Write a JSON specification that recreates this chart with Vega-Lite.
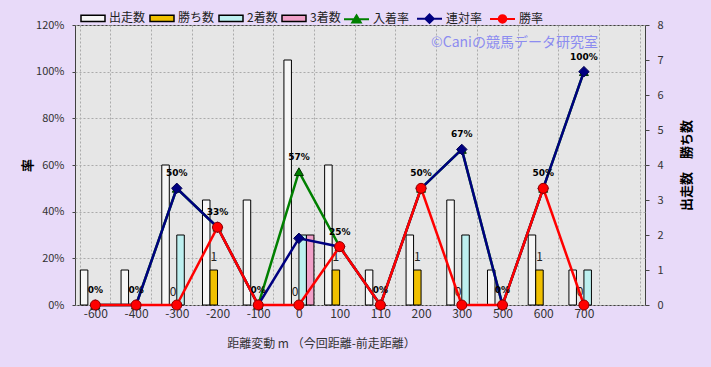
{
  "$schema": "https://vega.github.io/schema/vega-lite/v6.json",
  "width": 570,
  "height": 280,
  "autosize": {"type": "none"},
  "padding": {"left": 75, "top": 25, "right": 66, "bottom": 62},
  "background": "#e8daf9",
  "config": {
    "font": "Noto Sans CJK JP",
    "view": {"fill": "#e6e6e6", "stroke": "#404040", "strokeWidth": 1},
    "axis": {
      "labelFont": "Noto Sans CJK JP",
      "titleFont": "Noto Sans CJK JP",
      "labelColor": "#333333",
      "labelFontSize": 11,
      "gridColor": "#ababab",
      "gridDash": [2, 2],
      "gridWidth": 1,
      "domain": false,
      "tickColor": "#444444"
    },
    "legend": {"labelFont": "Noto Sans CJK JP", "labelColor": "#222222", "labelFontSize": 12}
  },
  "datasets": {
    "bars": [
      {"d": "-600", "s": "出走数", "v": 1},
      {"d": "-400", "s": "出走数", "v": 1},
      {"d": "-300", "s": "出走数", "v": 4},
      {"d": "-300", "s": "2着数", "v": 2},
      {"d": "-200", "s": "出走数", "v": 3},
      {"d": "-200", "s": "勝ち数", "v": 1},
      {"d": "-100", "s": "出走数", "v": 3},
      {"d": "0", "s": "出走数", "v": 7},
      {"d": "0", "s": "2着数", "v": 2},
      {"d": "0", "s": "3着数", "v": 2},
      {"d": "100", "s": "出走数", "v": 4},
      {"d": "100", "s": "勝ち数", "v": 1},
      {"d": "110", "s": "出走数", "v": 1},
      {"d": "200", "s": "出走数", "v": 2},
      {"d": "200", "s": "勝ち数", "v": 1},
      {"d": "300", "s": "出走数", "v": 3},
      {"d": "300", "s": "2着数", "v": 2},
      {"d": "500", "s": "出走数", "v": 1},
      {"d": "600", "s": "出走数", "v": 2},
      {"d": "600", "s": "勝ち数", "v": 1},
      {"d": "700", "s": "出走数", "v": 1},
      {"d": "700", "s": "2着数", "v": 1}
    ],
    "wins": [
      {"d": "-300", "s": "勝ち数", "v": 0, "t": "0"},
      {"d": "-200", "s": "勝ち数", "v": 1, "t": "1"},
      {"d": "0", "s": "勝ち数", "v": 0, "t": "0"},
      {"d": "100", "s": "勝ち数", "v": 1, "t": "1"},
      {"d": "200", "s": "勝ち数", "v": 1, "t": "1"},
      {"d": "300", "s": "勝ち数", "v": 0, "t": "0"},
      {"d": "600", "s": "勝ち数", "v": 1, "t": "1"},
      {"d": "700", "s": "勝ち数", "v": 0, "t": "0"}
    ],
    "rates": [
      {"d": "-600", "s": "入着率", "v": 0},
      {"d": "-400", "s": "入着率", "v": 0},
      {"d": "-300", "s": "入着率", "v": 0.5},
      {"d": "-200", "s": "入着率", "v": 0.3333},
      {"d": "-100", "s": "入着率", "v": 0},
      {"d": "0", "s": "入着率", "v": 0.5714},
      {"d": "100", "s": "入着率", "v": 0.25},
      {"d": "110", "s": "入着率", "v": 0},
      {"d": "200", "s": "入着率", "v": 0.5},
      {"d": "300", "s": "入着率", "v": 0.6667},
      {"d": "500", "s": "入着率", "v": 0},
      {"d": "600", "s": "入着率", "v": 0.5},
      {"d": "700", "s": "入着率", "v": 1},
      {"d": "-600", "s": "連対率", "v": 0},
      {"d": "-400", "s": "連対率", "v": 0},
      {"d": "-300", "s": "連対率", "v": 0.5},
      {"d": "-200", "s": "連対率", "v": 0.3333},
      {"d": "-100", "s": "連対率", "v": 0},
      {"d": "0", "s": "連対率", "v": 0.2857},
      {"d": "100", "s": "連対率", "v": 0.25},
      {"d": "110", "s": "連対率", "v": 0},
      {"d": "200", "s": "連対率", "v": 0.5},
      {"d": "300", "s": "連対率", "v": 0.6667},
      {"d": "500", "s": "連対率", "v": 0},
      {"d": "600", "s": "連対率", "v": 0.5},
      {"d": "700", "s": "連対率", "v": 1},
      {"d": "-600", "s": "勝率", "v": 0},
      {"d": "-400", "s": "勝率", "v": 0},
      {"d": "-300", "s": "勝率", "v": 0},
      {"d": "-200", "s": "勝率", "v": 0.3333},
      {"d": "-100", "s": "勝率", "v": 0},
      {"d": "0", "s": "勝率", "v": 0},
      {"d": "100", "s": "勝率", "v": 0.25},
      {"d": "110", "s": "勝率", "v": 0},
      {"d": "200", "s": "勝率", "v": 0.5},
      {"d": "300", "s": "勝率", "v": 0},
      {"d": "500", "s": "勝率", "v": 0},
      {"d": "600", "s": "勝率", "v": 0.5},
      {"d": "700", "s": "勝率", "v": 0}
    ],
    "pct": [
      {"d": "-600", "v": 0, "t": "0%"},
      {"d": "-400", "v": 0, "t": "0%"},
      {"d": "-300", "v": 0.5, "t": "50%"},
      {"d": "-200", "v": 0.3333, "t": "33%"},
      {"d": "-100", "v": 0, "t": "0%"},
      {"d": "0", "v": 0.5714, "t": "57%"},
      {"d": "100", "v": 0.25, "t": "25%"},
      {"d": "110", "v": 0, "t": "0%"},
      {"d": "200", "v": 0.5, "t": "50%"},
      {"d": "300", "v": 0.6667, "t": "67%"},
      {"d": "500", "v": 0, "t": "0%"},
      {"d": "600", "v": 0.5, "t": "50%"},
      {"d": "700", "v": 1, "t": "100%"}
    ],
    "mark": [
      {"d": "500", "v": 1.125, "t": "©Caniの競馬データ研究室"}
    ]
  },
  "encoding": {
    "x": {
      "field": "d",
      "type": "nominal",
      "sort": null,
      "scale": {
        "domain": ["-600", "-400", "-300", "-200", "-100", "0", "100", "110", "200", "300", "500", "600", "700", " "],
        "paddingInner": 0.263,
        "paddingOuter": 0.1315
      },
      "axis": {
        "title": "距離変動 m （今回距離-前走距離）",
        "labelAngle": 0,
        "labelFontSize": 12,
        "labelPadding": 3,
        "ticks": false,
        "grid": true,
        "tickBand": "extent",
        "titleX": 246,
        "titleY": 38,
        "titleBaseline": "middle",
        "titleAlign": "center",
        "titleFontSize": 12,
        "titleFontWeight": "normal",
        "titleColor": "#333333"
      }
    }
  },
  "layer": [
    {
      "encoding": {
        "y": {
          "field": "v",
          "type": "quantitative",
          "scale": {"domain": [0, 8], "nice": false},
          "axis": {
            "orient": "right",
            "values": [0, 1, 2, 3, 4, 5, 6, 7, 8],
            "grid": false,
            "tickSize": 4,
            "labelPadding": 8,
            "title": "出走数　勝ち数",
            "titleAngle": 270,
            "titleX": 41,
            "titleY": 140,
            "titleAlign": "center",
            "titleBaseline": "middle",
            "titleFontSize": 13,
            "titleFontWeight": "bold",
            "titleColor": "#000000"
          }
        }
      },
      "layer": [
        {
          "data": {"name": "bars"},
          "mark": {"type": "bar", "stroke": "#000000", "strokeWidth": 1},
          "encoding": {
            "xOffset": {
              "field": "s",
              "type": "nominal",
              "scale": {"domain": ["出走数", "勝ち数", "2着数", "3着数"], "paddingInner": 0, "paddingOuter": 0}
            },
            "fill": {
              "field": "s",
              "type": "nominal",
              "scale": {"domain": ["出走数", "勝ち数", "2着数", "3着数"], "range": ["#f6f6f6", "#f0c000", "#bdf0f0", "#f0a0c8"]},
              "legend": {
                "orient": "none",
                "legendX": 5,
                "legendY": -20,
                "direction": "horizontal",
                "title": null,
                "padding": 0,
                "symbolType": "M-1,-0.27H1V0.27H-1Z",
                "symbolSize": 576,
                "symbolStrokeColor": "#000000",
                "symbolStrokeWidth": 1.5,
                "symbolOpacity": 1,
                "labelOffset": 3,
                "columnPadding": 1
              }
            }
          }
        },
        {
          "data": {"name": "wins"},
          "mark": {"type": "text", "dy": -13, "fontSize": 12, "fill": "#222222", "baseline": "middle", "align": "center"},
          "encoding": {
            "xOffset": {"field": "s", "type": "nominal"},
            "text": {"field": "t"}
          }
        }
      ]
    },
    {
      "encoding": {
        "y": {
          "field": "v",
          "type": "quantitative",
          "scale": {"domain": [0, 1.2], "nice": false},
          "axis": {
            "orient": "left",
            "values": [0, 0.2, 0.4, 0.6, 0.8, 1, 1.2],
            "format": ".0%",
            "grid": true,
            "tickSize": 3,
            "labelPadding": 8,
            "title": "率",
            "titleAngle": 270,
            "titleX": -48,
            "titleY": 140,
            "titleAlign": "center",
            "titleBaseline": "middle",
            "titleFontSize": 13,
            "titleFontWeight": "bold",
            "titleColor": "#000000"
          }
        },
        "color": {
          "field": "s",
          "type": "nominal",
          "scale": {"domain": ["入着率", "連対率", "勝率"], "range": ["#008000", "#000080", "#ff0000"]},
          "legend": {
            "orient": "none",
            "legendX": 268,
            "legendY": -20,
            "direction": "horizontal",
            "title": null,
            "padding": 0,
            "symbolSize": 625,
            "labelOffset": 3,
            "columnPadding": 3,
            "encode": {
              "symbols": {
                "update": {
                  "shape": {"signal": "datum.value === '入着率' ? 'M-1,0H1M0,-0.3L0.34,0.26H-0.34Z' : datum.value === '連対率' ? 'M-1,0H1M0,-0.34L0.34,0L0,0.34L-0.34,0Z' : 'M-1,0H1M0.3,0A0.3,0.3 0 1 1 -0.3,0A0.3,0.3 0 1 1 0.3,0Z'"},
                  "fill": {"signal": "datum.value === '入着率' ? '#008000' : datum.value === '連対率' ? '#000080' : '#ff0000'"},
                  "stroke": {"signal": "datum.value === '入着率' ? '#008000' : datum.value === '連対率' ? '#000080' : '#ff0000'"},
                  "strokeWidth": {"value": 2},
                  "opacity": {"value": 1},
                  "fillOpacity": {"value": 1},
                  "strokeOpacity": {"value": 1}
                }
              }
            }
          }
        }
      },
      "layer": [
        {
          "data": {"name": "rates"},
          "transform": [{"filter": "datum.s === '入着率'"}],
          "mark": {"type": "line", "strokeWidth": 2.5}
        },
        {
          "data": {"name": "rates"},
          "transform": [{"filter": "datum.s === '入着率'"}],
          "mark": {"type": "point", "shape": "triangle-up", "filled": true, "size": 80, "stroke": "#003000", "strokeWidth": 1, "opacity": 1}
        },
        {
          "data": {"name": "rates"},
          "transform": [{"filter": "datum.s === '連対率'"}],
          "mark": {"type": "line", "strokeWidth": 2.5}
        },
        {
          "data": {"name": "rates"},
          "transform": [{"filter": "datum.s === '連対率'"}],
          "mark": {"type": "point", "shape": "diamond", "filled": true, "size": 110, "stroke": "#000050", "strokeWidth": 1, "opacity": 1}
        },
        {
          "data": {"name": "rates"},
          "transform": [{"filter": "datum.s === '勝率'"}],
          "mark": {"type": "line", "strokeWidth": 2.5}
        },
        {
          "data": {"name": "rates"},
          "transform": [{"filter": "datum.s === '勝率'"}],
          "mark": {"type": "point", "shape": "circle", "filled": true, "size": 100, "stroke": "#900000", "strokeWidth": 1, "opacity": 1}
        },
        {
          "data": {"name": "pct"},
          "mark": {"type": "text", "dy": -15, "fontSize": 9, "fontWeight": "bold", "font": "DejaVu Sans", "baseline": "middle", "align": "center"},
          "encoding": {
            "text": {"field": "t"},
            "color": {"value": "#000000"}
          }
        },
        {
          "data": {"name": "mark"},
          "mark": {"type": "text", "dx": 12, "fontSize": 14, "baseline": "middle", "align": "center"},
          "encoding": {
            "text": {"field": "t"},
            "color": {"value": "#8c8cf0"}
          }
        }
      ]
    }
  ],
  "resolve": {"scale": {"y": "independent"}}
}
